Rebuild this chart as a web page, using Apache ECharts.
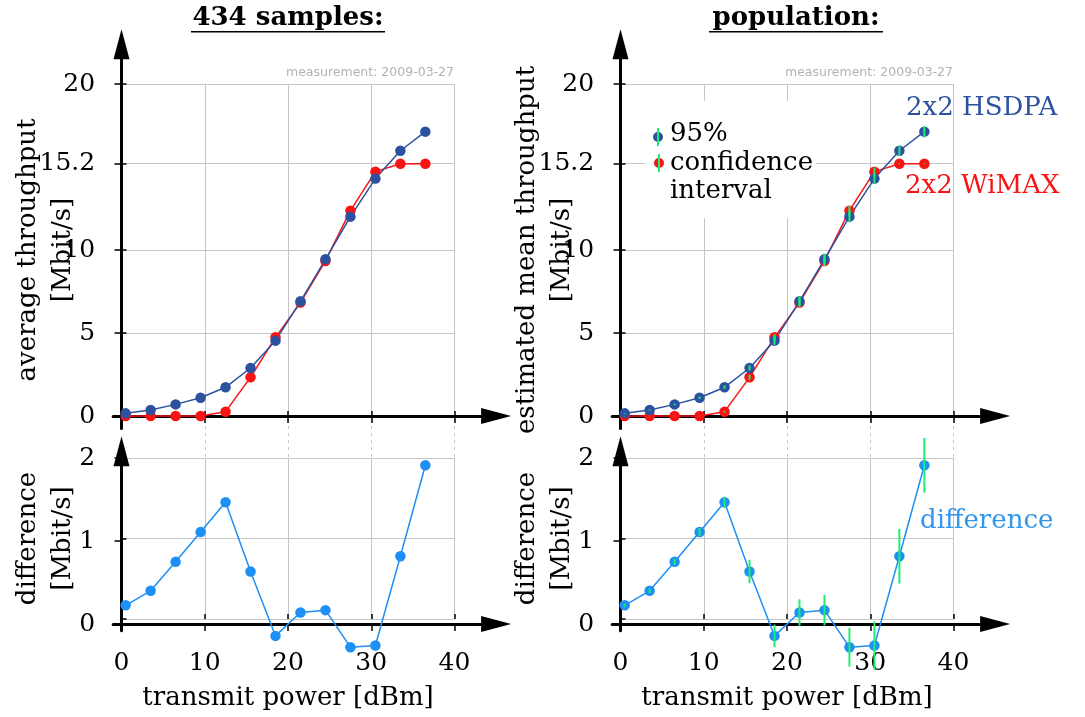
<!DOCTYPE html>
<html>
<head>
<meta charset="utf-8">
<script src="https://cdn.jsdelivr.net/npm/echarts@6/dist/echarts.min.js"></script>
<style>
html, body { margin: 0; padding: 0; background: #fff; }
#main { width: 1085px; height: 717px; }
</style>
</head>
<body>
<div id="main"></div>
<script>
// transmit power steps [dBm]
const power = [0.5, 3.5, 6.5, 9.5, 12.5, 15.5, 18.5, 21.5, 24.5, 27.5, 30.5, 33.5, 36.5];
// throughput [Mbit/s]
const hsdpa = [0.16, 0.36, 0.70, 1.10, 1.73, 2.89, 4.54, 6.91, 9.44, 12.01, 14.30, 15.98, 17.13];
const wimax = [0.0, 0.0, 0.0, 0.0, 0.26, 2.33, 4.74, 6.83, 9.34, 12.37, 14.72, 15.2, 15.2];
const diff = [0.17, 0.35, 0.71, 1.08, 1.45, 0.59, -0.21, 0.08, 0.11, -0.35, -0.33, 0.78, 1.91];
// half width of the 95% confidence interval
const hsdpaErr = [0.02, 0.03, 0.05, 0.07, 0.1, 0.15, 0.25, 0.3, 0.35, 0.35, 0.3, 0.3, 0.34];
const wimaxErr = [0.01, 0.01, 0.01, 0.01, 0.05, 0.15, 0.2, 0.25, 0.3, 0.3, 0.25, 0.02, 0.02];
const diffErr = [0.02, 0.03, 0.04, 0.05, 0.07, 0.145, 0.14, 0.165, 0.19, 0.24, 0.3, 0.34, 0.34];

const powerTicks = [0, 10, 20, 30, 40];
const rateTicks = [0, 5, 10, 15.2, 20];
const diffTicks = [0, 1, 2];

const FONT = 'DejaVu Serif';
const BLUE = '#2c529f';
const RED = '#f81414';
const LIGHTBLUE = '#1e8ff5';
const GREEN = '#1cee70';
const PX = 333 / 40; // px per dBm

const upper = { y0: 416, py: 16.6, max: 20, bMin: -0.75, bMax: 22.4, ticks: rateTicks };
const lower = { y0: 624, py: 83, max: 2, bMin: -0.08, bMax: 2.08, ticks: diffTicks };

const grid = [], xAxis = [], yAxis = [], series = [];

const tickStyle = { color: '#000', width: 1.5 };
const gridStyle = { color: '#c6c6c6', width: 1 };
const arrowLine = {
  onZero: true,
  symbol: ['none', 'triangle'],
  symbolSize: [16, 30],
  lineStyle: { color: '#000', width: 3 }
};
const nameStyle = { fontFamily: FONT, fontSize: 26, lineHeight: 35, color: '#000' };
const labelStyle = { fontFamily: FONT, fontSize: 25, color: '#000' };

// one plot: grid lines + arrow axes, returns index of the plot grid
function panel(x0, p, yName, showX) {
  const a = grid.length;
  grid.push({ left: x0, top: p.y0 - p.max * p.py, width: 40 * PX, height: p.max * p.py });
  xAxis.push({
    type: 'value', gridIndex: a, min: 0, max: 40,
    axisLine: { show: false },
    axisTick: { inside: true, length: 5, lineStyle: tickStyle, customValues: powerTicks },
    axisLabel: { show: false },
    splitLine: { lineStyle: gridStyle },
    name: showX ? 'transmit power [dBm]' : '',
    nameLocation: 'middle', nameGap: 62, nameTextStyle: nameStyle
  });
  yAxis.push({
    type: 'value', gridIndex: a, min: 0, max: p.max,
    axisLine: { show: false },
    axisTick: { inside: true, length: 5, lineStyle: tickStyle, customValues: p.ticks },
    axisLabel: { show: false },
    splitLine: { lineStyle: gridStyle },
    name: yName, nameLocation: 'middle', nameRotate: 90, nameGap: 41, nameTextStyle: nameStyle
  });

  const b = grid.length;
  grid.push({
    left: x0 - PX, top: p.y0 - p.bMax * p.py,
    width: 46 * PX, height: (p.bMax - p.bMin) * p.py
  });
  xAxis.push({
    type: 'value', gridIndex: b, min: -1, max: 45,
    axisLine: arrowLine,
    axisTick: { length: 7, lineStyle: tickStyle, customValues: powerTicks },
    axisLabel: Object.assign({ show: showX, customValues: powerTicks, margin: 20 }, labelStyle),
    splitLine: { show: false }
  });
  yAxis.push({
    type: 'value', gridIndex: b, min: p.bMin, max: p.bMax,
    axisLine: arrowLine,
    axisTick: { length: 7, lineStyle: tickStyle, customValues: p.ticks },
    axisLabel: Object.assign({ customValues: p.ticks, margin: 18 }, labelStyle),
    splitLine: { show: false }
  });
  return a;
}

// dotted continuation of the lower grid lines
function gap(x0) {
  const c = grid.length;
  grid.push({ left: x0, top: 419, width: 40 * PX, height: 39 });
  xAxis.push({
    type: 'value', gridIndex: c, min: 0, max: 40,
    axisLine: { show: false }, axisLabel: { show: false },
    axisTick: { show: false, customValues: [10, 20, 30, 40] },
    splitLine: { lineStyle: { color: '#c6c6c6', width: 1, type: [3, 4] } }
  });
  yAxis.push({ type: 'value', gridIndex: c, show: false, min: 0, max: 1 });
}

function line(gi, data, color) {
  return {
    type: 'line', xAxisIndex: gi, yAxisIndex: gi,
    data: power.map((x, i) => [x, data[i]]),
    symbol: 'circle', symbolSize: 10.5, clip: false, z: 3,
    lineStyle: { color: color, width: 1.5 },
    itemStyle: { color: color }
  };
}

function bars(gi, data, err) {
  return {
    type: 'custom', xAxisIndex: gi, yAxisIndex: gi, clip: false, z: 6,
    data: power.map((x, i) => [x, data[i] - err[i], data[i] + err[i]]),
    encode: { x: 0, y: [1, 2] },
    renderItem: function (params, api) {
      const p1 = api.coord([api.value(0), api.value(1)]);
      const p2 = api.coord([api.value(0), api.value(2)]);
      return {
        type: 'line',
        shape: { x1: p1[0], y1: p1[1], x2: p2[0], y2: p2[1] },
        style: { stroke: GREEN, lineWidth: 2 }
      };
    }
  };
}

const L = 121.5, R = 620.5;
const tl = panel(L, upper, 'average throughput\n[Mbit/s]', false);
const bl = panel(L, lower, 'difference\n[Mbit/s]', true);
const tr = panel(R, upper, 'estimated mean throughput\n[Mbit/s]', false);
const br = panel(R, lower, 'difference\n[Mbit/s]', true);
gap(L);
gap(R);

series.push(line(tl, wimax, RED), line(tl, hsdpa, BLUE));
series.push(line(bl, diff, LIGHTBLUE));
series.push(line(tr, wimax, RED), line(tr, hsdpa, BLUE));
series.push(bars(tr, wimax, wimaxErr), bars(tr, hsdpa, hsdpaErr));
series.push(line(br, diff, LIGHTBLUE), bars(br, diff, diffErr));

function txt(x, y, s, color, font, align) {
  return {
    type: 'text', x: x, y: y, z: 100,
    style: { text: s, fill: color, font: font, textAlign: align || 'left', textVerticalAlign: 'middle' }
  };
}
const big = '26px "DejaVu Serif"';
const graphic = [
  txt(288, 18, '434 samples:', '#000', 'bold 26px "DejaVu Serif"', 'center'),
  { type: 'rect', z: 100, shape: { x: 191, y: 31, width: 194, height: 1.6 }, style: { fill: '#000' } },
  txt(796, 18, 'population:', '#000', 'bold 26px "DejaVu Serif"', 'center'),
  { type: 'rect', z: 100, shape: { x: 709, y: 31, width: 174, height: 1.6 }, style: { fill: '#000' } },
  txt(454, 73, 'measurement: 2009-03-27', '#b3b3b3', '12.5px "DejaVu Sans"', 'right'),
  txt(953, 73, 'measurement: 2009-03-27', '#b3b3b3', '12.5px "DejaVu Sans"', 'right'),
  txt(906, 108, '2x2 HSDPA', BLUE, big),
  txt(905, 186, '2x2 WiMAX', RED, big),
  txt(920, 521, 'difference', '#3396ee', big),
  // legend
  { type: 'rect', z: 90, shape: { x: 645, y: 101, width: 171, height: 117 }, style: { fill: '#fff' } },
  { type: 'circle', z: 100, shape: { cx: 658, cy: 137, r: 5 }, style: { fill: BLUE } },
  { type: 'line', z: 101, shape: { x1: 658, y1: 128, x2: 658, y2: 146 }, style: { stroke: GREEN, lineWidth: 2 } },
  { type: 'circle', z: 100, shape: { cx: 659, cy: 163, r: 5 }, style: { fill: RED } },
  { type: 'line', z: 101, shape: { x1: 659, y1: 154, x2: 659, y2: 172 }, style: { stroke: GREEN, lineWidth: 2 } },
  txt(670, 134, '95%', '#000', big),
  txt(670, 163, 'confidence', '#000', big),
  txt(670, 191, 'interval', '#000', big)
];

const myChart = echarts.init(document.getElementById('main'));
myChart.setOption({
  animation: false,
  textStyle: { fontFamily: FONT },
  grid: grid,
  xAxis: xAxis,
  yAxis: yAxis,
  series: series,
  graphic: graphic
});
</script>
</body>
</html>
